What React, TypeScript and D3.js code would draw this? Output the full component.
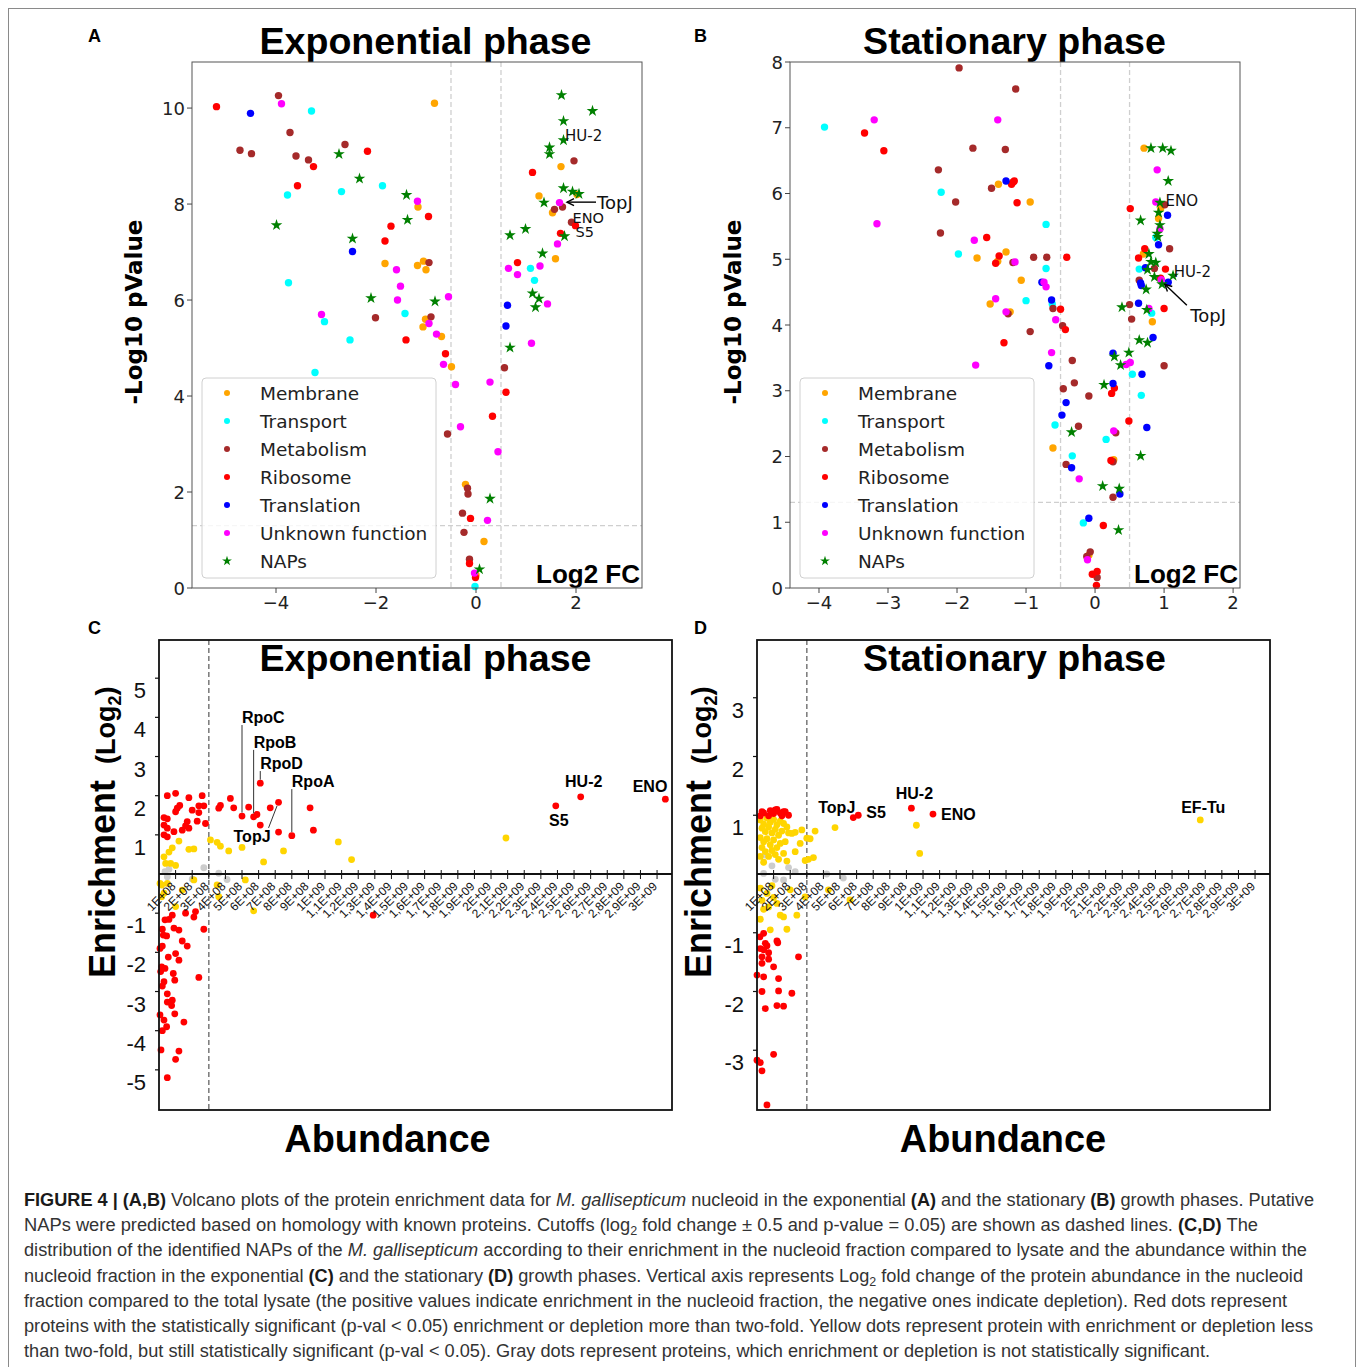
import React from 'react';
import * as d3 from 'd3';

type Pt = [number, number];

const volcanoCategories = ['Membrane', 'Transport', 'Metabolism', 'Ribosome', 'Translation', 'Unknown function', 'NAPs'];
const categoryColors = ['#FFA500', '#00FFFF', '#A52A2A', '#FF0000', '#0000FF', '#FF00FF', '#008000'];

// ---------- Panel A: exponential phase volcano (log2 FC, -log10 p) ----------
const expMembrane: Pt[] = [[-0.83,10.10],[-1.16,7.94],[-1.82,6.76],[-1.17,6.72],[-1.05,6.81],[-1.0,6.63],[-1.01,5.60],[-1.06,5.44],[-0.69,5.24],[-0.49,4.61],[-0.21,2.16],[0.16,0.97],[1.70,8.78],[1.26,8.17],[1.53,7.82],[1.59,6.86],[2.02,8.2],[0.0,0.27]];
const expTransport: Pt[] = [[-3.29,9.94],[-3.77,8.19],[-2.69,8.26],[-1.87,8.38],[-3.75,6.36],[-3.03,5.55],[-1.42,5.72],[-2.52,5.17],[-3.22,4.49],[1.09,6.66],[1.17,6.41],[-0.02,0.03]];
const expMetabolism: Pt[] = [[-3.95,10.26],[-3.72,9.49],[-4.72,9.12],[-4.49,9.05],[-3.6,9.0],[-3.35,8.92],[-2.62,9.24],[-0.94,6.78],[-2.01,5.63],[-0.9,5.65],[1.96,8.90],[1.73,7.94],[1.57,7.89],[1.91,7.62],[0.57,4.59],[-0.57,3.21],[-0.17,2.08],[-0.16,1.96],[-0.27,1.56],[-0.24,1.16],[-0.13,0.60]];
const expRibosome: Pt[] = [[-5.19,10.03],[-3.25,8.78],[-2.17,9.10],[-3.57,8.38],[-0.95,7.74],[-1.7,7.54],[-1.82,7.23],[-1.4,5.17],[-0.61,4.88],[1.13,8.66],[1.99,7.55],[1.69,7.39],[0.83,6.78],[0.6,4.08],[0.33,3.58],[-0.11,1.45],[-0.13,0.51],[-0.01,0.22]];
const expTranslation: Pt[] = [[-4.51,9.89],[-2.47,7.01],[0.63,5.89],[0.6,5.46]];
const expUnknown: Pt[] = [[-3.89,10.09],[-1.17,8.06],[-1.59,6.63],[-1.51,6.29],[-1.57,6.0],[-0.55,6.07],[-3.09,5.70],[-0.94,5.51],[-0.79,5.29],[-0.65,4.66],[-0.41,4.24],[0.28,4.29],[-0.31,3.36],[0.44,2.84],[0.23,1.41],[-0.03,0.31],[1.67,8.03],[1.63,7.17],[0.65,6.66],[1.28,6.71],[0.83,6.53],[1.43,5.92],[1.11,5.10]];
const expNAPs: Pt[] = [[-2.74,9.04],[-2.33,8.53],[-1.39,8.19],[-1.37,7.67],[-3.99,7.56],[-2.47,7.28],[-2.1,6.04],[-0.82,5.97],[1.71,10.27],[2.33,9.94],[1.75,9.73],[1.75,9.33],[1.47,9.18],[1.47,9.04],[1.75,8.33],[1.93,8.26],[2.06,8.21],[1.36,8.03],[0.68,7.35],[0.99,7.48],[1.77,7.33],[1.33,6.97],[1.13,6.14],[1.26,6.03],[1.19,5.85],[0.68,5.01],[0.28,1.86],[0.07,0.39]];

// ---------- Panel B: stationary phase volcano ----------
const statMembrane: Pt[] = [[-1.4,6.14],[-0.94,5.87],[-1.71,5.02],[-1.29,5.11],[-1.41,4.97],[-1.07,4.68],[-1.52,4.32],[-1.23,4.20],[-0.61,2.13],[-0.09,0.50],[0.71,6.69],[0.95,5.77],[0.92,5.62],[0.70,5.08],[0.83,4.05],[0.27,1.95]];
const statTransport: Pt[] = [[-3.92,7.01],[-2.23,6.02],[-0.71,5.53],[-1.98,5.08],[-0.71,4.86],[-1.0,4.37],[-0.62,4.32],[-0.58,2.48],[-0.33,2.01],[-0.17,0.99],[0.88,5.33],[0.64,4.85],[0.82,4.18],[0.54,3.25],[0.67,2.93],[0.16,2.26]];
const statMetabolism: Pt[] = [[-1.97,7.91],[-1.15,7.59],[-1.77,6.69],[-1.3,6.67],[-2.27,6.36],[-1.5,6.08],[-2.02,5.87],[-2.24,5.40],[-1.19,4.95],[-0.89,5.03],[-0.7,5.03],[-0.61,4.25],[-1.26,4.17],[-0.47,3.99],[-0.94,3.90],[-0.33,3.46],[-0.3,3.12],[-0.46,3.03],[-0.09,2.92],[-0.24,2.46],[-0.42,1.88],[-0.07,0.55],[-0.12,0.48],[0.03,0.16],[1.01,5.83],[1.08,5.16],[0.86,4.86],[0.64,4.68],[0.50,4.31],[0.53,4.09],[1.0,3.38],[0.30,2.36],[0.26,1.92],[0.26,1.38]];
const statRibosome: Pt[] = [[-3.34,6.92],[-3.06,6.65],[-1.19,6.17],[-1.17,6.19],[-1.21,6.14],[-1.13,5.86],[-1.57,5.33],[-1.39,5.05],[-1.44,4.94],[-0.41,5.03],[-0.5,4.24],[-0.43,3.93],[-1.32,3.73],[0.12,0.95],[0.03,0.25],[-0.04,0.21],[0.02,0.04],[0.51,5.77],[0.72,5.16],[0.63,5.02],[1.02,4.85],[0.95,4.71],[1.0,4.25],[0.28,3.04],[0.24,2.96],[0.49,2.54],[0.23,1.94]];
const statTranslation: Pt[] = [[-1.29,6.19],[-0.77,4.65],[-0.63,4.38],[-0.67,3.38],[-0.42,2.82],[-0.48,2.63],[-0.34,1.83],[-0.09,1.06],[1.05,5.67],[0.92,5.22],[0.73,4.87],[1.06,4.65],[0.66,4.64],[0.67,4.60],[0.63,4.33],[0.84,3.81],[0.26,3.57],[0.68,3.25],[0.26,3.11],[0.75,2.44],[0.36,1.43]];
const statUnknown: Pt[] = [[-3.2,7.12],[-1.41,7.12],[-3.16,5.54],[-1.75,5.29],[-1.16,4.96],[-0.74,4.65],[-0.71,4.58],[-1.44,4.40],[-1.29,4.20],[-0.57,4.08],[-0.63,3.58],[-1.73,3.39],[-0.23,1.66],[-0.11,0.43],[0.9,6.36],[0.88,5.87],[0.94,5.46],[0.96,4.69],[0.78,4.25],[0.45,3.40],[0.51,3.43],[0.27,2.39]];
const statNAPs: Pt[] = [[0.81,6.69],[0.98,6.69],[1.10,6.65],[1.06,6.19],[0.94,5.86],[0.92,5.71],[0.66,5.59],[0.94,5.52],[0.9,5.39],[0.91,5.34],[0.78,5.08],[0.81,4.96],[0.88,4.95],[0.76,4.84],[0.86,4.73],[1.13,4.75],[0.97,4.62],[0.74,4.54],[0.39,4.27],[0.75,4.23],[0.64,3.77],[0.76,3.73],[0.49,3.58],[0.28,3.52],[0.37,3.39],[0.13,3.09],[-0.34,2.37],[0.66,2.01],[0.11,1.55],[0.35,1.51],[0.34,0.88]];

const expTicksX = [-4, -2, 0, 2];
const expTicksY = [0, 2, 4, 6, 8, 10];
const statTicksX = [-4, -3, -2, -1, 0, 1, 2];
const statTicksY = [0, 1, 2, 3, 4, 5, 6, 7, 8];

// ---------- Panels C, D: abundance (x 1E9) vs enrichment (log2) ----------
const expRed: Pt[] = [[0.05,2.0],[0.10,2.06],[0.18,1.95],[0.26,2.0],[0.125,1.75],[0.11,1.68],[0.10,1.59],[0.24,1.74],[0.27,1.74],[0.20,1.63],[0.24,1.57],[0.03,1.44],[0.05,1.41],[0.17,1.34],[0.16,1.23],[0.23,1.35],[0.28,1.29],[0.03,1.25],[0.05,1.17],[0.14,1.12],[0.18,1.17],[0.09,1.08],[0.03,1.0],[0.05,0.95],
  [0.43,1.93],[0.37,1.75],[0.36,1.68],[0.45,1.69],[0.50,1.48],[0.54,1.71],[0.57,1.46],[0.59,1.52],[0.61,2.32],[0.61,1.25],[0.67,1.69],[0.72,1.83],[0.72,1.07],[0.80,0.98],[0.91,1.69],[0.93,1.12],[2.39,1.74],[2.54,1.97],[3.05,1.91],
  [0.16,-1.0],[0.22,-0.96],[0.21,-1.1],[0.036,-1.17],[0.06,-1.16],[0.08,-1.05],[0.27,-1.41],[0.02,-1.41],[0.09,-1.38],[0.12,-1.43],[0.026,-1.56],[0.046,-1.58],[0.14,-1.71],[0.17,-1.84],[0.006,-1.90],[0.02,-1.84],[0.10,-2.03],[0.056,-2.12],[0.12,-2.20],[0.016,-2.37],[0.036,-2.41],[0.01,-2.49],[0.086,-2.54],[0.24,-2.64],[0.095,-2.71],[0.03,-2.75],[0.02,-2.86],[0.05,-3.06],[0.08,-3.22],[0.05,-3.27],[0.076,-3.36],[0.095,-3.57],[0.006,-3.60],[0.03,-3.73],[0.15,-3.78],[0.046,-3.90],[0.02,-4.0],[0.012,-4.49],[0.12,-4.52],[0.10,-4.73],[0.05,-5.2],[1.29,-1.05]];
const expYellow: Pt[] = [[0.12,0.84],[0.08,0.67],[0.06,0.56],[0.03,0.44],[0.04,0.27],[0.07,0.27],[0.10,0.22],[0.18,0.63],[0.21,0.64],[0.31,0.87],[0.35,0.81],[0.37,0.71],[0.42,0.59],[0.50,0.68],[0.63,0.31],[0.75,0.59],[1.08,0.82],[1.16,0.37],[2.09,0.92],
  [0.006,-0.24],[0.016,-0.58],[0.03,-0.49],[0.05,-0.24],[0.10,-0.83],[0.14,-0.41],[0.21,-0.15],[0.35,-0.28],[0.36,-0.58],[0.52,-0.15],[0.57,-0.94],[0.016,-0.28]];
const expGray: Pt[] = [[0.036,0.06],[0.05,-0.07],[0.27,0.16],[0.36,0.02],[0.41,-0.14],[0.2,-0.13],[0.06,0.12]];

const statRed: Pt[] = [[0.02,0.99],[0.04,1.04],[0.08,1.08],[0.10,1.03],[0.11,1.09],[0.14,1.04],[0.16,1.06],[0.17,1.06],[0.19,1.0],[0.07,0.99],[0.15,0.99],[0.03,1.06],[0.12,1.1],
  [0.58,0.96],[0.61,1.0],[0.93,1.12],[1.06,1.02],
  [0.018,-1.07],[0.04,-1.01],[0.12,-1.14],[0.125,-1.17],[0.05,-1.18],[0.06,-1.22],[0.02,-1.27],[0.04,-1.29],[0.07,-1.34],[0.25,-1.41],[0.03,-1.41],[0.07,-1.45],[0.03,-1.52],[0.10,-1.58],[0.0,-1.72],[0.04,-1.75],[0.13,-1.78],[0.03,-2.0],[0.13,-1.99],[0.21,-2.03],[0.12,-2.24],[0.16,-2.25],[0.05,-2.29],[0.10,-3.07],[0.0,-3.17],[0.02,-3.21],[0.03,-3.35],[0.06,-3.93]];
const statYellow: Pt[] = [[0.02,0.92],[0.04,0.85],[0.06,0.95],[0.08,0.88],[0.1,0.93],[0.12,0.84],[0.14,0.9],[0.16,0.86],[0.18,0.8],[0.03,0.78],[0.05,0.72],[0.07,0.8],[0.09,0.7],[0.11,0.76],[0.13,0.66],[0.15,0.73],[0.19,0.7],[0.21,0.69],[0.23,0.71],[0.27,0.75],[0.30,0.61],[0.32,0.60],[0.35,0.73],[0.47,0.79],[0.02,0.62],[0.04,0.55],[0.06,0.6],[0.08,0.5],[0.1,0.58],[0.12,0.45],[0.14,0.52],[0.17,0.55],[0.26,0.52],[0.23,0.38],[0.03,0.45],[0.05,0.38],[0.07,0.3],[0.09,0.4],[0.11,0.33],[0.13,0.25],[0.16,0.35],[0.02,0.3],[0.04,0.2],[0.18,0.22],[0.31,0.25],[0.34,0.28],[0.29,0.23],[0.96,0.83],[0.98,0.35],[2.67,0.92],
  [0.02,-0.24],[0.06,-0.33],[0.07,-0.56],[0.12,-0.5],[0.14,-0.7],[0.16,-0.73],[0.18,-0.94],[0.08,-0.95],[0.24,-0.7],[0.2,-0.27],[0.29,-0.39],[0.43,-0.27],[0.56,-0.44],[0.02,-0.77],[0.04,-0.6],[0.1,-0.4],[0.03,-0.45],[0.09,-0.2]];
const statGray: Pt[] = [[0.05,0.32],[0.09,0.14],[0.19,0.11],[0.23,0.04],[0.04,0.01],[0.11,-0.09],[0.16,-0.1],[0.42,0.0],[0.52,-0.07]];

const abundanceTicks = d3.range(1, 31).map((i) => i / 10);
const abundanceTickLabels = ['1E+08','2E+08','3E+08','4E+08','5E+08','6E+08','7E+08','8E+08','9E+08','1E+09','1,1E+09','1,2E+09','1,3E+09','1,4E+09','1,5E+09','1,6E+09','1,7E+09','1,8E+09','1,9E+09','2E+09','2,1E+09','2,2E+09','2,3E+09','2,4E+09','2,5E+09','2,6E+09','2,7E+09','2,8E+09','2,9E+09','3E+09'];
const expEnrichTicks = [-5, -4, -3, -2, -1, 1, 2, 3, 4, 5];
const statEnrichTicks = [-3, -2, -1, 1, 2, 3];

// annotations (label, anchor in data units)
const expVolcanoNotes = [
  { text: 'HU-2', x: 1.78, y: 9.31, size: 15 },
  { text: 'ENO', x: 1.93, y: 7.61, size: 14.5 },
  { text: 'S5', x: 1.99, y: 7.32, size: 14.5 },
  { text: 'TopJ', x: 2.42, y: 7.90, size: 18 },
];
const expVolcanoArrows = [{ from: [2.4, 8.04], to: [1.82, 8.04] }];
const statVolcanoNotes = [
  { text: 'ENO', x: 1.02, y: 5.81, size: 15 },
  { text: 'HU-2', x: 1.14, y: 4.73, size: 15 },
  { text: 'TopJ', x: 1.38, y: 4.05, size: 18 },
];
const statVolcanoArrows = [{ from: [1.33, 4.30], to: [1.01, 4.62] }];

const expAbundNotes = [
  { text: 'RpoC', x: 0.50, y: 1.48, ly: 3.855, lead: 'v' },
  { text: 'RpoB', x: 0.57, y: 1.46, ly: 3.22, lead: 'v' },
  { text: 'RpoD', x: 0.61, y: 2.32, ly: 2.68, lead: 'v' },
  { text: 'RpoA', x: 0.80, y: 0.98, ly: 2.22, lead: 'v' },
  { text: 'TopJ', x: 0.72, y: 1.83, ly: 0.82, lead: 'd' },
  { text: 'HU-2', x: 2.54, y: 1.97, ly: 2.22, lead: 'c' },
  { text: 'S5', x: 2.39, y: 1.74, ly: 1.22, lead: 'c' },
  { text: 'ENO', x: 3.05, y: 1.91, ly: 2.09, lead: 'e' },
];
const statAbundNotes = [
  { text: 'TopJ', x: 0.58, y: 0.96, ly: 1.04, lead: 'e' },
  { text: 'S5', x: 0.61, y: 1.0, ly: 0.95, lead: 's' },
  { text: 'HU-2', x: 0.93, y: 1.12, ly: 1.27, lead: 'c' },
  { text: 'ENO', x: 1.06, y: 1.02, ly: 0.92, lead: 's' },
  { text: 'EF-Tu', x: 2.67, y: 0.92, ly: 1.04, lead: 'c' },
];

const MPL = "'DejaVu Sans', sans-serif";
const ARIAL = "'Liberation Sans', Arial, sans-serif";

const starPath = d3.symbol().type(d3.symbolStar).size(42)() as string;

function Volcano(props: any) {
  const { x0, x1, y0, y1, xDomain, yDomain, xTicks, yTicks, series, title, titleX, letter, letterX, notes, arrows, ylabX } = props;
  const x = d3.scaleLinear().domain(xDomain).range([x0, x1]);
  const y = d3.scaleLinear().domain(yDomain).range([y1, y0]);
  const fmt = (v: number) => (v < 0 ? '\u2212' + Math.abs(v) : String(v));
  const pCut = -Math.log10(0.05);
  const lgX = x0 + 10;
  const lgY = y1 - 210;
  return (
    <g>
      <text x={letterX} y={42} fontFamily={ARIAL} fontWeight="bold" fontSize={18}>{letter}</text>
      <text x={titleX} y={54} textAnchor="middle" fontFamily={ARIAL} fontWeight="bold" fontSize={37.6}>{title}</text>
      <line x1={x(-0.5)} x2={x(-0.5)} y1={y0} y2={y1} stroke="#cfcfcf" strokeWidth={1.3} strokeDasharray="5,3" />
      <line x1={x(0.5)} x2={x(0.5)} y1={y0} y2={y1} stroke="#cfcfcf" strokeWidth={1.3} strokeDasharray="5,3" />
      <line x1={x0} x2={x1} y1={y(pCut)} y2={y(pCut)} stroke="#cfcfcf" strokeWidth={1.3} strokeDasharray="5,3" />
      {series.map((pts: Pt[], si: number) =>
        pts.map((p, i) =>
          si === 6 ? (
            <path key={si + '-' + i} d={starPath} transform={`translate(${x(p[0])},${y(p[1])})`} fill={categoryColors[si]} />
          ) : (
            <circle key={si + '-' + i} cx={x(p[0])} cy={y(p[1])} r={3.7} fill={categoryColors[si]} />
          )
        )
      )}
      <rect x={lgX} y={lgY} width={234} height={200} rx={4} fill="#fff" fillOpacity={0.8} stroke="#d0d0d0" strokeWidth={1} />
      {volcanoCategories.map((c, i) => (
        <g key={c}>
          {i === 6 ? (
            <path d={starPath} transform={`translate(${lgX + 25},${lgY + 15 + i * 28}) scale(0.85)`} fill={categoryColors[i]} />
          ) : (
            <circle cx={lgX + 25} cy={lgY + 15 + i * 28} r={3} fill={categoryColors[i]} />
          )}
          <text x={lgX + 58} y={lgY + 15 + i * 28 + 6.5} fontFamily={MPL} fontSize={18.5} fill="#222">{c}</text>
        </g>
      ))}
      {notes.map((n: any) => (
        <text key={n.text} x={x(n.x)} y={y(n.y)} fontFamily={MPL} fontSize={n.size} fill="#111">{n.text}</text>
      ))}
      {arrows.map((a: any, i: number) => {
        const fx = x(a.from[0]), fy = y(a.from[1]), tx = x(a.to[0]), ty = y(a.to[1]);
        const ang = Math.atan2(ty - fy, tx - fx);
        const hl = 7, hw = 3.5;
        const bx = tx - hl * Math.cos(ang), by = ty - hl * Math.sin(ang);
        const px = -Math.sin(ang) * hw, py = Math.cos(ang) * hw;
        return (
          <g key={i}>
            <line x1={fx} y1={fy} x2={tx} y2={ty} stroke="#000" strokeWidth={1.4} />
            <polyline points={`${bx + px},${by + py} ${tx},${ty} ${bx - px},${by - py}`} fill="none" stroke="#000" strokeWidth={1.4} />
          </g>
        );
      })}
      <text x={x1 - 2} y={y1 - 5} textAnchor="end" fontFamily={ARIAL} fontWeight="bold" fontSize={26}>Log2 FC</text>
      <rect x={x0} y={y0} width={x1 - x0} height={y1 - y0} fill="none" stroke="#555" strokeWidth={1} />
      {xTicks.map((t: number) => (
        <g key={'x' + t}>
          <line x1={x(t)} x2={x(t)} y1={y1} y2={y1 + 5} stroke="#444" />
          <text x={x(t)} y={y1 + 21} textAnchor="middle" fontFamily={MPL} fontSize={18} fill="#222">{fmt(t)}</text>
        </g>
      ))}
      {yTicks.map((t: number) => (
        <g key={'y' + t}>
          <line x1={x0 - 5} x2={x0} y1={y(t)} y2={y(t)} stroke="#444" />
          <text x={x0 - 7} y={y(t) + 6.5} textAnchor="end" fontFamily={MPL} fontSize={18} fill="#222">{fmt(t)}</text>
        </g>
      ))}
      <text transform={`translate(${ylabX},312) rotate(-90)`} textAnchor="middle" fontFamily={MPL} fontWeight="bold" fontSize={23}>-Log10 pValue</text>
    </g>
  );
}

function Abundance(props: any) {
  const { x0, x1, y0, y1, yDomain, yTicks, red, yellow, gray, title, titleX, letter, letterX, notes, ylabX, xlabX } = props;
  const x = d3.scaleLinear().domain([0, 3.09]).range([x0, x1]);
  const y = d3.scaleLinear().domain(yDomain).range([y1, y0]);
  const zy = y(0);
  const r = 3.4;
  return (
    <g>
      <text x={letterX} y={634} fontFamily={ARIAL} fontWeight="bold" fontSize={18}>{letter}</text>
      <line x1={x(0.3)} x2={x(0.3)} y1={y0} y2={y1} stroke="#808080" strokeWidth={1.6} strokeDasharray="5,3" />
      {gray.map((p: Pt, i: number) => <circle key={'g' + i} cx={x(p[0])} cy={y(p[1])} r={r} fill="#cccccc" />)}
      {yellow.map((p: Pt, i: number) => <circle key={'yl' + i} cx={x(p[0])} cy={y(p[1])} r={r} fill="#FFD500" />)}
      {red.map((p: Pt, i: number) => <circle key={'r' + i} cx={x(p[0])} cy={y(p[1])} r={r} fill="#FF0000" />)}
      <text x={titleX} y={671} textAnchor="middle" fontFamily={ARIAL} fontWeight="bold" fontSize={37.6}>{title}</text>
      <line x1={x0} x2={x1} y1={zy} y2={zy} stroke="#111" strokeWidth={1.8} />
      {abundanceTicks.map((t, i) => (
        <g key={'t' + i}>
          <line x1={x(t)} x2={x(t)} y1={zy - 4} y2={zy + 5} stroke="#111" strokeWidth={1} />
          <text transform={`translate(${x(t) + 1},${zy + 13}) rotate(-45)`} textAnchor="end" fontFamily={ARIAL} fontSize={12} fill="#111">{abundanceTickLabels[i]}</text>
        </g>
      ))}
      {yTicks.map((t: number) => (
        <g key={'y' + t}>
          <line x1={x0 - 4} x2={x0} y1={y(t)} y2={y(t)} stroke="#111" strokeWidth={1.2} />
          <text x={x0 - 13} y={y(t) + 20} textAnchor="end" fontFamily={ARIAL} fontSize={22} fill="#111">{t}</text>
        </g>
      ))}
      <rect x={x0} y={y0} width={x1 - x0} height={y1 - y0} fill="none" stroke="#111" strokeWidth={1.8} />
      {notes.map((n: any) => {
        const px = x(n.x), py = y(n.y), ly = y(n.ly);
        if (n.lead === 'v') {
          return (
            <g key={n.text}>
              <line x1={px} x2={px} y1={ly + 2} y2={py - 3.5} stroke="#333" strokeWidth={1} />
              <text x={px} y={ly} fontFamily={ARIAL} fontWeight="bold" fontSize={16}>{n.text}</text>
            </g>
          );
        }
        if (n.lead === 'd') {
          return (
            <g key={n.text}>
              <line x1={px - 10} x2={px - 1.5} y1={ly - 14} y2={py + 3.5} stroke="#333" strokeWidth={1} />
              <text x={px - 45} y={ly} fontFamily={ARIAL} fontWeight="bold" fontSize={16}>{n.text}</text>
            </g>
          );
        }
        if (n.lead === 'c') return <text key={n.text} x={px + 3} y={ly} textAnchor="middle" fontFamily={ARIAL} fontWeight="bold" fontSize={16}>{n.text}</text>;
        if (n.lead === 'e') return <text key={n.text} x={px + 2} y={ly} textAnchor="end" fontFamily={ARIAL} fontWeight="bold" fontSize={16}>{n.text}</text>;
        return <text key={n.text} x={px + 8} y={ly} fontFamily={ARIAL} fontWeight="bold" fontSize={16}>{n.text}</text>;
      })}
      <text transform={`translate(${ylabX},978) rotate(-90)`} fontFamily={ARIAL} fontWeight="bold">
        <tspan fontSize={36}>Enrichment</tspan>
        <tspan fontSize={27} dx={16}>(Log</tspan>
        <tspan fontSize={18} dy={6}>2</tspan>
        <tspan fontSize={27} dy={-6}>)</tspan>
      </text>
      <text x={xlabX} y={1152} textAnchor="middle" fontFamily={ARIAL} fontWeight="bold" fontSize={37.9}>Abundance</text>
    </g>
  );
}

const captionLines: { parts: [string, string][]; w: number }[] = [
  { w: 1290, parts: [['b', 'FIGURE 4 | (A,B)'], ['n', ' Volcano plots of the protein enrichment data for '], ['i', 'M. gallisepticum'], ['n', ' nucleoid in the exponential '], ['b', '(A)'], ['n', ' and the stationary '], ['b', '(B)'], ['n', ' growth phases. Putative']] },
  { w: 1234, parts: [['n', 'NAPs were predicted based on homology with known proteins. Cutoffs (log'], ['s', '2'], ['u', ' fold change \u00B1 0.5 and p-value = 0.05) are shown as dashed lines. '], ['b', '(C,D)'], ['n', ' The']] },
  { w: 1283, parts: [['n', 'distribution of the identified NAPs of the '], ['i', 'M. gallisepticum'], ['n', ' according to their enrichment in the nucleoid fraction compared to lysate and the abundance within the']] },
  { w: 1279, parts: [['n', 'nucleoid fraction in the exponential '], ['b', '(C)'], ['n', ' and the stationary '], ['b', '(D)'], ['n', ' growth phases. Vertical axis represents Log'], ['s', '2'], ['u', ' fold change of the protein abundance in the nucleoid']] },
  { w: 1263, parts: [['n', 'fraction compared to the total lysate (the positive values indicate enrichment in the nucleoid fraction, the negative ones indicate depletion). Red dots represent']] },
  { w: 1289, parts: [['n', 'proteins with the statistically significant (p-val < 0.05) enrichment or depletion more than two-fold. Yellow dots represent protein with enrichment or depletion less']] },
  { w: 1186, parts: [['n', 'than two-fold, but still statistically significant (p-val < 0.05). Gray dots represent proteins, which enrichment or depletion is not statistically significant.']] },
];

export default function App() {
  return (
    <svg width={1358} height={1367} viewBox="0 0 1358 1367" style={{ position: 'absolute', left: 0, top: 0, background: '#fff' }}>
      <rect x={0} y={0} width={1358} height={1367} fill="#fff" />
      <rect x={8.5} y={8.5} width={1347} height={1375} fill="none" stroke="#8a8a8a" strokeWidth={1} />
      <Volcano x0={192} x1={642} y0={62} y1={588} xDomain={[-5.68, 3.32]} yDomain={[0, 10.96]} xTicks={expTicksX} yTicks={expTicksY}
        series={[expMembrane, expTransport, expMetabolism, expRibosome, expTranslation, expUnknown, expNAPs]}
        title="Exponential phase" titleX={425.5} letter="A" letterX={88} notes={expVolcanoNotes} arrows={expVolcanoArrows} ylabX={142} />
      <Volcano x0={790} x1={1240} y0={62} y1={588} xDomain={[-4.42, 2.10]} yDomain={[0, 8]} xTicks={statTicksX} yTicks={statTicksY}
        series={[statMembrane, statTransport, statMetabolism, statRibosome, statTranslation, statUnknown, statNAPs]}
        title="Stationary phase" titleX={1014.5} letter="B" letterX={694} notes={statVolcanoNotes} arrows={statVolcanoArrows} ylabX={741} />
      <Abundance x0={159} x1={672} y0={640} y1={1110} yDomain={[-6.025, 5.975]} yTicks={expEnrichTicks} red={expRed} yellow={expYellow} gray={expGray}
        title="Exponential phase" titleX={425.5} letter="C" letterX={88} notes={expAbundNotes} ylabX={115} xlabX={387.5} />
      <Abundance x0={757} x1={1270} y0={640} y1={1110} yDomain={[-4.017, 3.983]} yTicks={statEnrichTicks} red={statRed} yellow={statYellow} gray={statGray}
        title="Stationary phase" titleX={1014.5} letter="D" letterX={694} notes={statAbundNotes} ylabX={711} xlabX={1003} />
      {captionLines.map((l, i) => (
        <text key={i} x={24} y={1206 + i * 25.2} textLength={l.w} lengthAdjust="spacingAndGlyphs" fontFamily={ARIAL} fontSize={17.5} fill="#333">
          {l.parts.map((p, j) => {
            if (p[0] === 'b') return <tspan key={j} fontWeight="bold" fill="#1a1a1a">{p[1]}</tspan>;
            if (p[0] === 'i') return <tspan key={j} fontStyle="italic">{p[1]}</tspan>;
            if (p[0] === 's') return <tspan key={j} fontSize={12} dy={4}>{p[1]}</tspan>;
            if (p[0] === 'u') return <tspan key={j} dy={-4}>{p[1]}</tspan>;
            return <tspan key={j}>{p[1]}</tspan>;
          })}
        </text>
      ))}
    </svg>
  );
}
